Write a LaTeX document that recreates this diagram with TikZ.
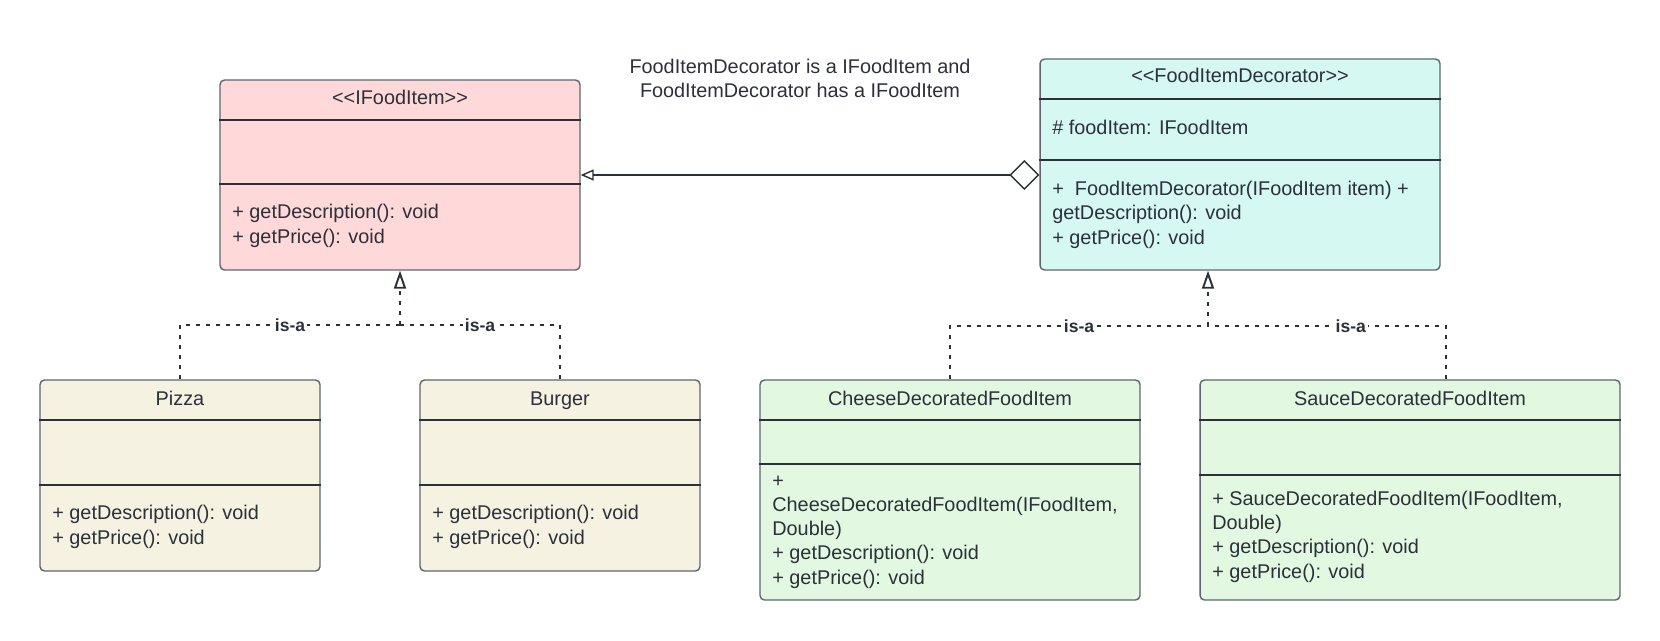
\documentclass[tikz,border=0pt]{standalone}
\usepackage{fontspec}
\setmainfont{Liberation Sans}
\usetikzlibrary{arrows.meta}

\definecolor{ink}{HTML}{2B3039}
\definecolor{boxgray}{HTML}{5F6670}
\definecolor{ifoodfill}{HTML}{FFD9DA}
\definecolor{decofill}{HTML}{D6F8F3}
\definecolor{foodfill}{HTML}{F5F2E2}
\definecolor{toppingfill}{HTML}{E2F8E1}

\tikzset{
  classbox/.style={draw=boxgray, line width=0.8pt, rounded corners=2.5pt},
  sepline/.style={draw=ink, line width=0.8pt},
  classname/.style={text=ink, font=\fontsize{11.3}{13.7}\selectfont, anchor=base, inner sep=0pt},
  members/.style={text=ink, font=\fontsize{11.3}{13.7}\selectfont, align=left, anchor=base west, inner sep=0pt},
  isa/.style={draw=ink, line width=1.1pt, dash pattern=on 0.08cm off 0.12cm},
  isalabel/.style={fill=white, text=ink, font=\fontsize{10}{11}\selectfont\bfseries, inner sep=1pt},
}

\begin{document}
\begin{tikzpicture}[x=0.02cm,y=-0.02cm]
    \useasboundingbox (0,0) rectangle (1660,640);

    % interface and decorator
    \node[classbox, fill=ifoodfill, minimum width=7.2cm, minimum height=3.8cm] (ifood) at (400,175) {};
    \node[classbox, fill=decofill, minimum width=8cm, minimum height=4.22cm] (deco) at (1240,164.5) {};
    \draw[sepline] (ifood.west |- 0,120) -- (ifood.east |- 0,120);
    \draw[sepline] (ifood.west |- 0,184) -- (ifood.east |- 0,184);
    \draw[sepline] (deco.west |- 0,99) -- (deco.east |- 0,99);
    \draw[sepline] (deco.west |- 0,160) -- (deco.east |- 0,160);
    \node[classname] (ifoodname) at (400,104) {<\kern0pt<IFoodItem>\kern0pt>};
    \node[members] (ifoodops) at (232,243) {+ getDescription(): void\\+ getPrice(): void};
    \node[classname] (deconame) at (1240,82) {<\kern0pt<FoodItemDecorator>\kern0pt>};
    \node[members] (decoattr) at (1052,134) {\# foodItem: IFoodItem};
    \node[members] (decoops) at (1052,244) {+\ \ FoodItemDecorator(IFoodItem item) +\\getDescription(): void\\+ getPrice(): void};

    \node[text=ink, font=\fontsize{11.3}{13.7}\selectfont, align=center] (note) at (800,78)
      {FoodItemDecorator is a IFoodItem and\\FoodItemDecorator has a IFoodItem};

    % concrete food items
    \node[classbox, fill=foodfill, minimum width=5.6cm, minimum height=3.82cm] (pizza) at (180,475.5) {};
    \node[classbox, fill=foodfill, minimum width=5.6cm, minimum height=3.82cm] (burger) at (560,475.5) {};
    \foreach \c in {pizza,burger}{
      \draw[sepline] (\c.west |- 0,420) -- (\c.east |- 0,420);
      \draw[sepline] (\c.west |- 0,485) -- (\c.east |- 0,485);
    }
    \node[classname] (pizzaname) at (180,405) {Pizza};
    \node[classname] (burgername) at (560,405) {Burger};
    \node[members] (pizzaops) at (52,544) {+ getDescription(): void\\+ getPrice(): void};
    \node[members] (burgerops) at (432,544) {+ getDescription(): void\\+ getPrice(): void};

    % decorated items
    \node[classbox, fill=toppingfill, minimum width=7.6cm, minimum height=4.4cm] (cheese) at (950,490) {};
    \node[classbox, fill=toppingfill, minimum width=8.4cm, minimum height=4.4cm] (sauce) at (1410,490) {};
    \draw[sepline] (cheese.west |- 0,420) -- (cheese.east |- 0,420);
    \draw[sepline] (cheese.west |- 0,464) -- (cheese.east |- 0,464);
    \draw[sepline] (sauce.west |- 0,420) -- (sauce.east |- 0,420);
    \draw[sepline] (sauce.west |- 0,475) -- (sauce.east |- 0,475);
    \node[classname] (cheesename) at (950,405) {CheeseDecoratedFoodItem};
    \node[classname] (saucename) at (1410,405) {SauceDecoratedFoodItem};
    \node[members] (cheeseops) at (772,584)
      {+\\CheeseDecoratedFoodItem(IFoodItem,\\Double)\\+ getDescription(): void\\+ getPrice(): void};
    \node[members] (sauceops) at (1212,578)
      {+ SauceDecoratedFoodItem(IFoodItem,\\Double)\\+ getDescription(): void\\+ getPrice(): void};

    % has-a
    \draw[ink, line width=0.8pt, {Diamond[open, length=0.6cm, width=0.6cm]}-{Triangle[open, length=0.26cm, width=0.22cm]}]
      (deco.west |- ifood.east) -- (ifood.east);

    % is-a
    \coordinate (ljoin) at (400,325);
    \coordinate (rjoin) at (1208,326);
    \draw[isa] (pizza.north) |- node[isalabel, pos=0.75] (isa1) {is-a} (ljoin);
    \draw[isa] (burger.north) |- node[isalabel, pos=0.75] (isa2) {is-a} (ljoin);
    \draw[isa, -{Triangle[open, length=0.36cm, width=0.24cm]}] (ljoin) -- (ifood.south);
    \draw[isa] (cheese.north) |- node[isalabel, pos=0.75] (isa3) {is-a} (rjoin);
    \draw[isa] (sauce.north -| 1446,0) |- node[isalabel, pos=0.7] (isa4) {is-a} (rjoin);
    \draw[isa, -{Triangle[open, length=0.36cm, width=0.24cm]}] (rjoin) -- (rjoin |- deco.south);
\end{tikzpicture}
\end{document}
